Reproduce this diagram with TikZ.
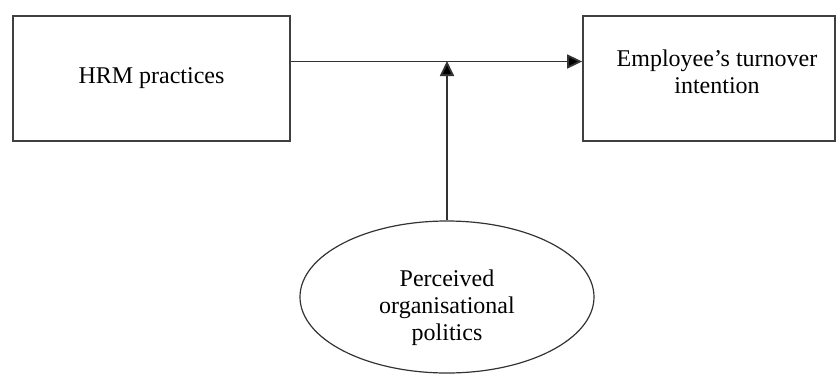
\documentclass[tikz,border=0pt]{standalone}
\usepackage{fontspec}
\setmainfont{Liberation Serif}
\usetikzlibrary{arrows.meta,shapes.geometric}

\begin{document}
\begin{tikzpicture}[x=0.5pt,y=-0.5pt,>={Triangle[length=7.5pt,width=7pt]},thick,
    box node/.style={rectangle,draw=black!75,line width=0.9pt,minimum width=138.5pt,minimum height=62.5pt,font=\fontsize{12}{13.5}\selectfont},
    oval node/.style={ellipse,draw=black!80,line width=0.6pt,minimum width=147pt,minimum height=76pt,inner sep=0pt,font=\fontsize{12}{13.5}\selectfont},
    link/.style={draw=black!80,line width=0.9pt}]
    \useasboundingbox (0,0) rectangle (837,376);
                \node[box node] (hrm) at (151.5,78.5) {HRM practices};
                \node[box node,minimum width=126pt,
                    label={[align=center,font=\fontsize{12}{13.5}\selectfont,xshift=4pt,yshift=3.5pt]center:Employee's turnover\\intention}] (turnover) at (709,78.5) {};
                \node[oval node,
                    label={[align=center,font=\fontsize{12}{13.5}\selectfont,yshift=-5.5pt]center:Perceived\\organisational\\politics}] (politics) at (447,297) {};
                \coordinate (meet) at (447,61);

                \path[link]
                    ([yshift=8.5pt]hrm.east) edge[->] ([yshift=8.5pt]turnover.west)
                    (politics.north) edge[->] (meet)
                    ;
            \end{tikzpicture}
\end{document}
